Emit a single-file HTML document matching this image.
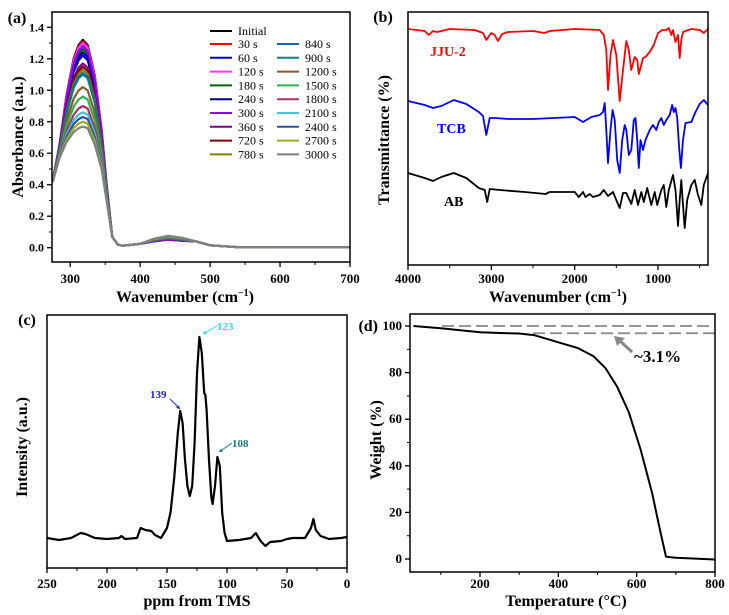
<!DOCTYPE html>
<html><head><meta charset="utf-8"><style>
html,body{margin:0;padding:0;background:#fff}
svg{display:block;font-family:"Liberation Serif",serif;font-weight:bold}
</style></head><body>
<svg id="fig" width="729" height="615" viewBox="0 0 729 615" xmlns="http://www.w3.org/2000/svg"></svg>
<script>
// ---------- Panel (a) data ----------
const aSeriesNames = ["Initial","30 s","60 s","120 s","180 s","240 s","300 s","360 s","720 s","780 s","840 s","900 s","1200 s","1500 s","1800 s","2100 s","2400 s","2700 s","3000 s"];
const aSeriesPeaks = [1.32,1.31,1.22,1.30,1.26,1.24,1.28,1.17,1.15,1.13,1.11,1.10,1.02,0.96,0.90,0.86,0.83,0.80,0.77];
const aColors = ["#000000","#ff0000","#0000cc","#ff33ff","#006400","#000080","#8a00ff","#800080","#800000","#808000","#2060a8","#008080","#8b5a2b","#2db34a","#b03060","#40c8d8","#3050a0","#99b020","#808080"];
const aWave = [275,285,295,305,312,318,325,335,345,352,360,368,375,400,420,440,460,480,500,540,600,700];
const aBase = [0.42,0.45,0.25,0.08,0.02,0,0.02,0.04,0.15,0.16,0.07,0.02,0.013,0.025,0.08,0.11,0.09,0.04,0.015,0.003,0.002,0.002];
const aGain = [0,0.16,0.55,0.85,0.96,1,0.96,0.80,0.45,0.18,0,0,0,0,-0.03,-0.045,-0.035,0,0,0,0,0];
const aXTicks = [300,400,500,600,700];
const aYTicks = [0.0,0.2,0.4,0.6,0.8,1.0,1.2,1.4];
// ---------- Panel (b) data (depth below panel top, a.u.) ----------
const bJJU = [[4000,17],[3800,19],[3750,23],[3700,19],[3650,20],[3500,17],[3200,18],[3100,21],[3060,28],[3000,21],[2960,23],[2920,29],[2870,22],[2800,20],[2500,19],[2360,21],[2300,19],[2000,17],[1700,18],[1650,23],[1620,38],[1600,78],[1570,43],[1540,28],[1500,43],[1460,89],[1420,58],[1380,29],[1350,38],[1320,58],[1280,45],[1250,48],[1230,62],[1200,53],[1180,46],[1150,45],[1100,40],[1050,33],[1000,21],[950,18],[900,18],[870,16],[840,23],[820,18],[790,30],[760,23],[740,46],[720,28],[700,20],[600,17],[500,18],[450,21],[400,17]];
const bTCB = [[4000,89],[3800,93],[3700,96],[3600,94],[3450,88],[3300,92],[3150,100],[3100,104],[3060,123],[3020,106],[2950,106],[2800,107],[2500,107],[2000,105],[1900,110],[1800,105],[1700,103],[1660,100],[1640,91],[1620,118],[1600,151],[1570,118],[1545,98],[1520,108],[1490,148],[1460,161],[1430,128],[1400,113],[1380,118],[1350,143],[1320,138],[1290,108],[1270,106],[1250,128],[1230,156],[1210,128],[1180,138],[1150,128],[1100,118],[1060,113],[1020,118],[990,110],[960,106],[930,113],[900,108],[860,103],[830,93],[810,100],[790,96],[770,106],[745,138],[725,156],[700,128],[670,111],[600,110],[550,100],[500,92],[450,88],[400,93]];
const bAB = [[4000,161],[3800,166],[3700,169],[3600,165],[3450,161],[3300,166],[3150,176],[3080,178],[3050,190],[3020,177],[2900,178],[2600,180],[2350,182],[2300,180],[2000,180],[1950,185],[1900,180],[1870,185],[1820,182],[1780,185],[1700,183],[1650,178],[1600,184],[1540,180],[1500,188],[1460,196],[1420,181],[1380,181],[1320,192],[1280,178],[1240,193],[1200,180],[1170,190],[1130,176],[1080,193],[1040,180],[1010,193],[960,178],[930,173],[900,195],[870,178],[820,163],[790,178],[760,214],[740,188],[720,168],[700,193],[680,216],[650,188],[600,173],[560,168],[520,183],[480,193],[450,173],[400,161]];
const bXTicks = [4000,3000,2000,1000];
// ---------- Panel (c) data ----------
const cPpm = [250,240,230,222,218,210,200,190,188,185,175,172,168,163,160,155,150,147,144,141,139,137,135,133,131,129,127,125,123,121,119,118,117,115,113,112,110,108,106,104,102,100,90,80,76,72,68,64,55,50,45,35,30,28,26,22,15,5,0];
const cInt = [0,-2,0,5,4,0,-1,0,2,-1,0,10,8,7,3,0,10,26,60,105,127,115,78,52,42,52,95,165,201,185,145,143,128,78,40,34,52,81,72,25,5,-3,-2,0,5,-3,-8,-4,-3,-1,0,0,10,19,8,2,-1,0,1];
const cXTicks = [250,200,150,100,50,0];
// ---------- Panel (d) data ----------
const dTemp = [30,100,200,250,300,340,400,450,490,520,550,580,610,640,660,675,700,800];
const dWeight = [100,99,97.3,97,96.8,96,93,90.5,87,82,74,63,47,28,12,1,0.5,-0.2];
const dXTicks = [200,400,600,800];
const dYTicks = [0,20,40,60,80,100];

const NS="http://www.w3.org/2000/svg";
const svg=document.getElementById('fig');
function el(tag,attrs,parent){const e=document.createElementNS(NS,tag);for(const k in attrs)e.setAttribute(k,attrs[k]);(parent||svg).appendChild(e);return e;}
function txt(s,x,y,size,anchor,parent,fill){const t=el('text',{x:x,y:y,'font-size':size,'text-anchor':anchor||'middle',fill:fill||'#000'},parent);t.textContent=s;return t;}
function lin(d0,d1,r0,r1){return v=>r0+(v-d0)*(r1-r0)/(d1-d0);}
function pathFrom(pts){return pts.map((p,i)=>(i?'L':'M')+p[0].toFixed(1)+','+p[1].toFixed(1)).join('');}

// ===== Panel (a) =====
(function(){
 const g=el('g',{});
 const L=52,R=350,T=12,B=262;
 const x=lin(274,700,L,R), y=lin(0,1.4,247.7,27.3);
 el('defs',{},g).innerHTML='<clipPath id="ca"><rect x="'+L+'" y="'+T+'" width="'+(R-L)+'" height="'+(B-T)+'"/></clipPath>';
 const cg=el('g',{'clip-path':'url(#ca)'},g);
 aSeriesPeaks.forEach((p,s)=>{
  const pts=aWave.map((w,i)=>[x(w),y(aBase[i]+aGain[i]*p)]);
  const e=el('path',{d:pathFrom(pts),fill:'none',stroke:aColors[s],'stroke-width':2.2,'stroke-linejoin':'round'},cg);
  
  
 });
 el('rect',{x:L,y:T,width:R-L,height:B-T,fill:'none',stroke:'#000','stroke-width':1.5},g);
 aXTicks.forEach(v=>{el('line',{x1:x(v),x2:x(v),y1:B,y2:B+5,stroke:'#000','stroke-width':1.3},g);
  const t=txt(v,x(v),283,13,'middle',g);});
 [350,450,550,650].forEach(v=>el('line',{x1:x(v),x2:x(v),y1:B,y2:B+3,stroke:'#000'},g));
 aYTicks.forEach(v=>{el('line',{x1:L-5,x2:L,y1:y(v),y2:y(v),stroke:'#000','stroke-width':1.3},g);
  const t=txt(v.toFixed(1),L-8,y(v)+4,12,'end',g);});
 [0.1,0.3,0.5,0.7,0.9,1.1,1.3].forEach(v=>el('line',{x1:L-3,x2:L,y1:y(v),y2:y(v),stroke:'#000'},g));
 const xt=txt('',185,302,16,'middle',g);xt.innerHTML='Wavenumber (cm<tspan font-size="10" dy="-6">−1</tspan><tspan dy="6">)</tspan>';
 
 const yt=txt('Absorbance (a.u.)',0,0,16,'middle',g);yt.setAttribute('transform','translate(23,137) rotate(-90)');
 
 const pl=txt('(a)',17,23,16,'middle',g);
 const lg=el('g',{},g);
 aSeriesNames.forEach((n,i)=>{
  let cx,cy;
  if(i===0){cx=210;cy=31;}else if(i<=9){cx=210;cy=44+(i-1)*13.8;}else{cx=277;cy=44+(i-10)*13.8;}
  const e=el('g',{},lg);
  el('line',{x1:cx,x2:cx+22,y1:cy,y2:cy,stroke:aColors[i],'stroke-width':2},e);
  const t=el('text',{x:cx+28,y:cy+4,'font-size':12,'font-weight':'normal'},e);t.textContent=n;
 });
})();

// ===== Panel (b) =====
(function(){
 const g=el('g',{});
 const L=408,R=708,T=12,B=265;
 const x=lin(4000,400,L,R), y=lin(0,253,T,B);
 [[bJJU,'#ff0000','jju-2-spectrum'],[bTCB,'#0000ff','tcb-spectrum'],[bAB,'#000000','ab-spectrum']].forEach(([d,c,n])=>{
  const e=el('path',{d:pathFrom(d.map(p=>[x(p[0]),y(p[1])])),fill:'none',stroke:c,'stroke-width':1.8,'stroke-linejoin':'round'},g);
  
 });
 el('rect',{x:L,y:T,width:R-L,height:B-T,fill:'none',stroke:'#000','stroke-width':1.5},g);
 bXTicks.forEach(v=>{el('line',{x1:x(v),x2:x(v),y1:B,y2:B+5,stroke:'#000','stroke-width':1.3},g);
  const t=txt(v,x(v),283,13,'middle',g);});
 [3500,2500,1500,500].forEach(v=>el('line',{x1:x(v),x2:x(v),y1:B,y2:B+3,stroke:'#000'},g));
 const lbls=[['JJU-2',430,56,'#ff0000'],['TCB',437,133,'#0000ff'],['AB',444,206,'#000']];
 lbls.forEach(l=>{const t=txt(l[0],l[1],l[2],14,'start',g,l[3]);});
 const xt=txt('',558,302,16,'middle',g);xt.innerHTML='Wavenumber (cm<tspan font-size="10" dy="-6">−1</tspan><tspan dy="6">)</tspan>';
 
 const yt=txt('Transmittance (%)',0,0,16,'middle',g);yt.setAttribute('transform','translate(389,140) rotate(-90)');
 
 const pl=txt('(b)',383,22,16,'middle',g);
})();

// ===== Panel (c) =====
(function(){
 const g=el('g',{});
 const L=47,R=347,T=315,B=568;
 const x=lin(250,0,L,R), y=lin(0,201,538,337);
 const e=el('path',{d:pathFrom(cPpm.map((p,i)=>[x(p),y(cInt[i])])),fill:'none',stroke:'#000','stroke-width':2.2,'stroke-linejoin':'round'},g);
 
 el('rect',{x:L,y:T,width:R-L,height:B-T,fill:'none',stroke:'#000','stroke-width':1.5},g);
 cXTicks.forEach(v=>{el('line',{x1:x(v),x2:x(v),y1:B,y2:B+5,stroke:'#000','stroke-width':1.3},g);
  const t=txt(v,x(v),588,13,'middle',g);});
 [225,175,125,75,25].forEach(v=>el('line',{x1:x(v),x2:x(v),y1:B,y2:B+3,stroke:'#000'},g));
 const ann=[['123',217,330,'#22e0f0',[217,326,203,334]],['139',150,398,'#2020e0',[170,399,180,409]],['108',232,447,'#108080',[232,443,219,452]]];
 ann.forEach(a=>{const ag=el('g',{},g);
  txt(a[0],a[1],a[2],11,'start',ag,a[3]);
  const [x1,y1,x2,y2]=a[4];el('line',{x1:x1,y1:y1,x2:x2,y2:y2,stroke:a[3],'stroke-width':1},ag);
  const ang=Math.atan2(y2-y1,x2-x1),s=4;
  el('polygon',{points:`${x2},${y2} ${x2-s*Math.cos(ang-0.5)},${y2-s*Math.sin(ang-0.5)} ${x2-s*Math.cos(ang+0.5)},${y2-s*Math.sin(ang+0.5)}`,fill:a[3]},ag);
 });
 const xt=txt('ppm from TMS',197,606,16,'middle',g);
 const yt=txt('Intensity (a.u.)',0,0,16,'middle',g);yt.setAttribute('transform','translate(27,447) rotate(-90)');
 
 const pl=txt('(c)',27,325,16,'middle',g);
})();

// ===== Panel (d) =====
(function(){
 const g=el('g',{});
 const L=410,R=715,T=314,B=572;
 const x=lin(200,800,480,715), y=lin(0,100,559,326);
 el('line',{x1:442,x2:R,y1:y(100),y2:y(100),stroke:'#888','stroke-width':1.8,'stroke-dasharray':'12,5'},g);
 el('line',{x1:533,x2:R,y1:y(96.9),y2:y(96.9),stroke:'#888','stroke-width':1.8,'stroke-dasharray':'12,5'},g);
 const e=el('path',{d:pathFrom(dTemp.map((t,i)=>[x(t),y(dWeight[i])])),fill:'none',stroke:'#000','stroke-width':2,'stroke-linejoin':'round'},g);
 
 el('rect',{x:L,y:T,width:R-L,height:B-T,fill:'none',stroke:'#000','stroke-width':1.5},g);
 dXTicks.forEach(v=>{el('line',{x1:x(v),x2:x(v),y1:B,y2:B+5,stroke:'#000','stroke-width':1.3},g);
  const t=txt(v,x(v),588,13,'middle',g);});
 [100,300,500,700].forEach(v=>el('line',{x1:x(v),x2:x(v),y1:B,y2:B+3,stroke:'#000'},g));
 dYTicks.forEach(v=>{el('line',{x1:L-5,x2:L,y1:y(v),y2:y(v),stroke:'#000','stroke-width':1.3},g);
  const t=txt(v,L-8,y(v)+4,13,'end',g);});
 [10,30,50,70,90].forEach(v=>el('line',{x1:L-3,x2:L,y1:y(v),y2:y(v),stroke:'#000'},g));
 const ag=el('g',{},g);
 el('line',{x1:632,y1:352,x2:619,y2:340,stroke:'#888','stroke-width':3},ag);
 el('polygon',{points:'614,336 625,338 617,346',fill:'#888'},ag);
 txt('~3.1%',634,362,17,'start',ag);
 const xt=txt('Temperature (°C)',566,606,16,'middle',g);
 const yt=txt('Weight (%)',0,0,16,'middle',g);yt.setAttribute('transform','translate(381,440) rotate(-90)');
 
 const pl=txt('(d)',378,331,16,'end',g);
})();
</script>
</body></html>
